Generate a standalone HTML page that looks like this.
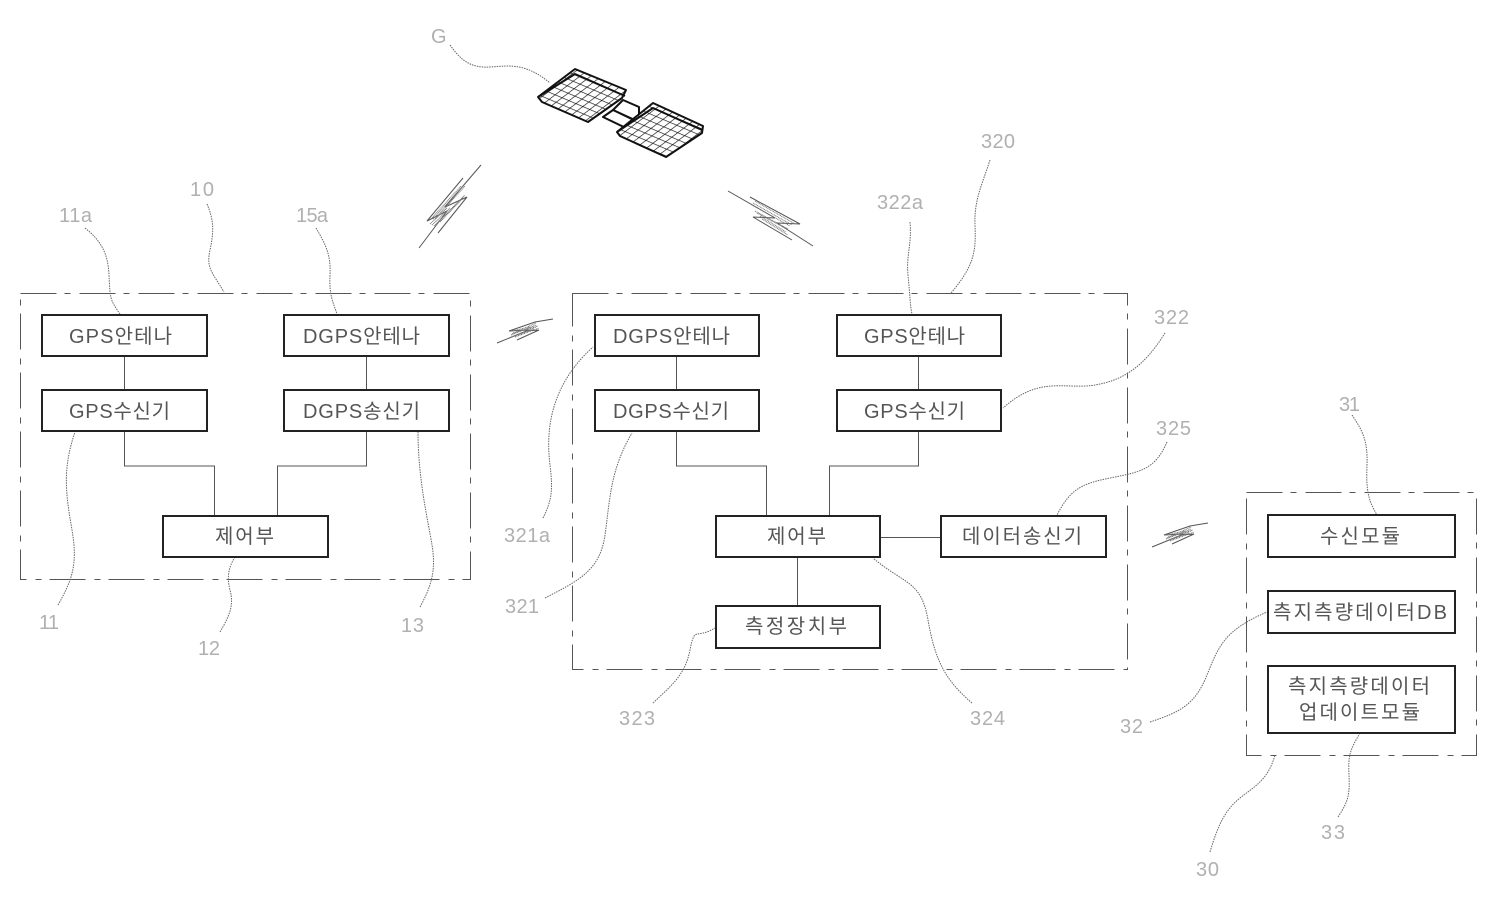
<!DOCTYPE html>
<html><head><meta charset="utf-8"><style>
html,body{margin:0;padding:0;background:#fff}
svg{display:block}
.b{fill:#fff;stroke:#222;stroke-width:2}
.o{fill:none;stroke:#555;stroke-width:1;stroke-dasharray:36 8 6 9}
.c{fill:none;stroke:#555;stroke-width:1}
.l{fill:none;stroke:#666;stroke-width:1;stroke-dasharray:1.5 1}
.t{font-family:"Liberation Sans","Noto Sans CJK KR",sans-serif;font-size:20px;fill:#555}
.n{font-family:"Liberation Sans",sans-serif;font-size:20px;fill:#b0b0b0}
.z{fill:none;stroke:#555;stroke-width:1}
.h{fill:none;stroke:#777;stroke-width:1;stroke-dasharray:1 .6}
.s{fill:#fff;stroke:#111;stroke-width:2;stroke-linejoin:round}
.g{stroke:#111;stroke-width:1.3;fill:none}
</style></head><body>
<svg xmlns="http://www.w3.org/2000/svg" width="1500" height="899" viewBox="0 0 1500 899">
<defs>
<pattern id="p1" patternUnits="userSpaceOnUse" width="6.5" height="6.5" patternTransform="rotate(-37)"><line x1="0" y1="0" x2="6.5" y2="0" class="g"/></pattern>
<pattern id="p2" patternUnits="userSpaceOnUse" width="6.5" height="6.5" patternTransform="rotate(23)"><line x1="0" y1="0" x2="6.5" y2="0" class="g"/></pattern>
</defs>

<!-- outer dashed -->
<rect class="o" x="20.5" y="293.5" width="450" height="286"/>
<rect class="o" x="572.5" y="293.5" width="555" height="376"/>
<rect class="o" x="1246.5" y="492.5" width="230" height="263"/>

<!-- satellite -->
<polygon class="s" points="623,100 639,107 639,122 613,110"/>
<polygon class="s" points="603,117 613,110 640,123 630,130"/>
<polygon class="s" points="538,97 575,69 626,90 622,98 588,122 542,102"/>
<polygon fill="url(#p1)" points="538,97 575,69 626,90 622,98 588,122 542,102"/>
<polygon fill="url(#p2)" points="538,97 575,69 626,90 622,98 588,122 542,102"/>
<polyline class="s" style="fill:none" points="538,97 575,74 625,96"/>
<polygon class="s" points="617,132 653,103 703,126 702,133 666,157 620,136"/>
<polygon fill="url(#p1)" points="617,132 653,103 703,126 702,133 666,157 620,136"/>
<polygon fill="url(#p2)" points="617,132 653,103 703,126 702,133 666,157 620,136"/>
<polyline class="s" style="fill:none" points="617,132 653,108 702,130"/>

<!-- lightning bolts -->
<g>
<polyline class="z" points="419,248 447,211 427,221 463,178"/>
<polyline class="z" points="481,165 445,207 467,197 438,233"/>
<path class="h" d="M431,219 L461,186 M433,219 L463,186 M435,219 L465,186 M430,224 L447,208 M432,225 L450,208 M434,226 L465,195 M437,224 L464,196 M440,222 L463,198"/>
</g>
<g>
<polyline class="z" points="728,191 775,218 753,217 792,240"/>
<polyline class="z" points="750,197 800,224 777,223 813,246"/>
<path class="h" d="M755,201 L795,224 M753,203 L792,225 M752,205 L790,226 M755,211 L788,229 M757,213 L785,228 M760,216 L786,232 M762,219 L788,235"/>
</g>
<g>
<polyline class="z" points="497,343 529,330 509,331 535,322 553,319"/>
<polyline class="z" points="517,340 539,330 526,331"/>
<path class="h" d="M511,335 L536,325 M513,333 L538,326 M509,338 L534,329 M515,337 L539,328 M511,331 L530,327 M511,337 L536,327 M512,334 L536,323"/>
</g>
<g transform="translate(655,204)">
<polyline class="z" points="497,343 529,330 509,331 535,322 553,319"/>
<polyline class="z" points="517,340 539,330 526,331"/>
<path class="h" d="M511,335 L536,325 M513,333 L538,326 M509,338 L534,329 M515,337 L539,328 M511,331 L530,327 M511,337 L536,327 M512,334 L536,323"/>
</g>

<!-- connectors -->
<path class="c" d="M124.5,356V390M366.5,356V390M124.5,431V466H214.5V516M366.5,431V466H277.5V516"/>
<path class="c" d="M676.5,356V390M918.5,356V390M676.5,431V466H766.5V516M918.5,431V466H829.5V516M880,537.5H941M797.5,557V606"/>

<!-- leaders -->
<path class="l" d="M450,45C462,62 472,68 490,67S525,62 550,83"/>
<path class="l" d="M85,228C100,240 108,252 109,275S110,300 120,314"/>
<path class="l" d="M316,228C326,245 331,255 330,275S333,302 337,314"/>
<path class="l" d="M207,204C214,220 214,232 210,250S212,272 224,292"/>
<path class="l" d="M58,605C72,580 78,565 72,530S62,470 75,432"/>
<path class="l" d="M220,632C230,615 234,605 230,590S230,565 235,557"/>
<path class="l" d="M420,607C432,585 436,570 432,545S418,480 418,431"/>
<path class="l" d="M543,518C552,500 553,490 550,465S545,390 593,347"/>
<path class="l" d="M545,598C580,580 600,570 605,535S610,470 632,433"/>
<path class="l" d="M910,222C912,245 906,255 908,275S910,305 912,314"/>
<path class="l" d="M990,160C982,185 974,200 975,225S975,265 951,293"/>
<path class="l" d="M1165,333C1145,365 1125,380 1095,385S1040,375 1003,408"/>
<path class="l" d="M1167,442C1155,470 1140,472 1110,478S1070,490 1057,515"/>
<path class="l" d="M653,703C672,685 685,675 690,650S695,640 715,628"/>
<path class="l" d="M972,703C945,680 935,660 928,620S905,585 873,558"/>
<path class="l" d="M1352,415C1362,430 1368,440 1367,465S1368,500 1377,515"/>
<path class="l" d="M1150,722C1180,712 1195,705 1207,675S1225,630 1267,612"/>
<path class="l" d="M1210,852C1218,825 1225,810 1240,798S1268,780 1275,755"/>
<path class="l" d="M1338,817C1348,802 1350,795 1349,775S1350,750 1360,733"/>

<!-- boxes -->
<rect class="b" x="42" y="315" width="165" height="41"/>
<rect class="b" x="42" y="390" width="165" height="41"/>
<rect class="b" x="284" y="315" width="165" height="41"/>
<rect class="b" x="284" y="390" width="165" height="41"/>
<rect class="b" x="163" y="516" width="165" height="41"/>
<rect class="b" x="595" y="315" width="164" height="41"/>
<rect class="b" x="595" y="390" width="164" height="41"/>
<rect class="b" x="837" y="315" width="164" height="41"/>
<rect class="b" x="837" y="390" width="164" height="41"/>
<rect class="b" x="716" y="516" width="164" height="41"/>
<rect class="b" x="941" y="516" width="165" height="41"/>
<rect class="b" x="716" y="606" width="164" height="42"/>
<rect class="b" x="1268" y="515" width="187" height="42"/>
<rect class="b" x="1268" y="591" width="187" height="42"/>
<rect class="b" x="1268" y="666" width="187" height="67"/>

<!-- box text -->
<text class="t" x="69" y="343" textLength="103">GPS안테나</text>
<text class="t" x="69" y="418" textLength="101">GPS수신기</text>
<text class="t" x="303" y="343" textLength="117">DGPS안테나</text>
<text class="t" x="303" y="418" textLength="117">DGPS송신기</text>
<text class="t" x="215" y="543" textLength="59">제어부</text>
<text class="t" x="613" y="343" textLength="117">DGPS안테나</text>
<text class="t" x="613" y="418" textLength="116">DGPS수신기</text>
<text class="t" x="864" y="343" textLength="101">GPS안테나</text>
<text class="t" x="864" y="418" textLength="101">GPS수신기</text>
<text class="t" x="767" y="543" textLength="59">제어부</text>
<text class="t" x="962" y="543" textLength="120">데이터송신기</text>
<text class="t" x="745" y="633" textLength="102">측정장치부</text>
<text class="t" x="1320" y="543" textLength="80">수신모듈</text>
<text class="t" x="1273" y="619" textLength="174">측지측량데이터DB</text>
<text class="t" x="1288" y="693" textLength="142">측지측량데이터</text>
<text class="t" x="1299" y="719" textLength="121">업데이트모듈</text>

<!-- reference numerals -->
<text class="n" x="431" y="43">G</text>
<text class="n" x="59" y="222" textLength="33">11a</text>
<text class="n" x="296" y="222" textLength="32">15a</text>
<text class="n" x="190" y="196" textLength="24">10</text>
<text class="n" x="39" y="629" textLength="20">11</text>
<text class="n" x="198" y="655" textLength="22">12</text>
<text class="n" x="401" y="632" textLength="23">13</text>
<text class="n" x="504" y="542" textLength="46">321a</text>
<text class="n" x="505" y="613" textLength="34">321</text>
<text class="n" x="877" y="209" textLength="46">322a</text>
<text class="n" x="981" y="148" textLength="34">320</text>
<text class="n" x="1154" y="324" textLength="35">322</text>
<text class="n" x="1156" y="435" textLength="35">325</text>
<text class="n" x="619" y="725" textLength="36">323</text>
<text class="n" x="970" y="725" textLength="35">324</text>
<text class="n" x="1339" y="411" textLength="21">31</text>
<text class="n" x="1120" y="733" textLength="23">32</text>
<text class="n" x="1196" y="876" textLength="23">30</text>
<text class="n" x="1321" y="839" textLength="24">33</text>
</svg>
</body></html>
